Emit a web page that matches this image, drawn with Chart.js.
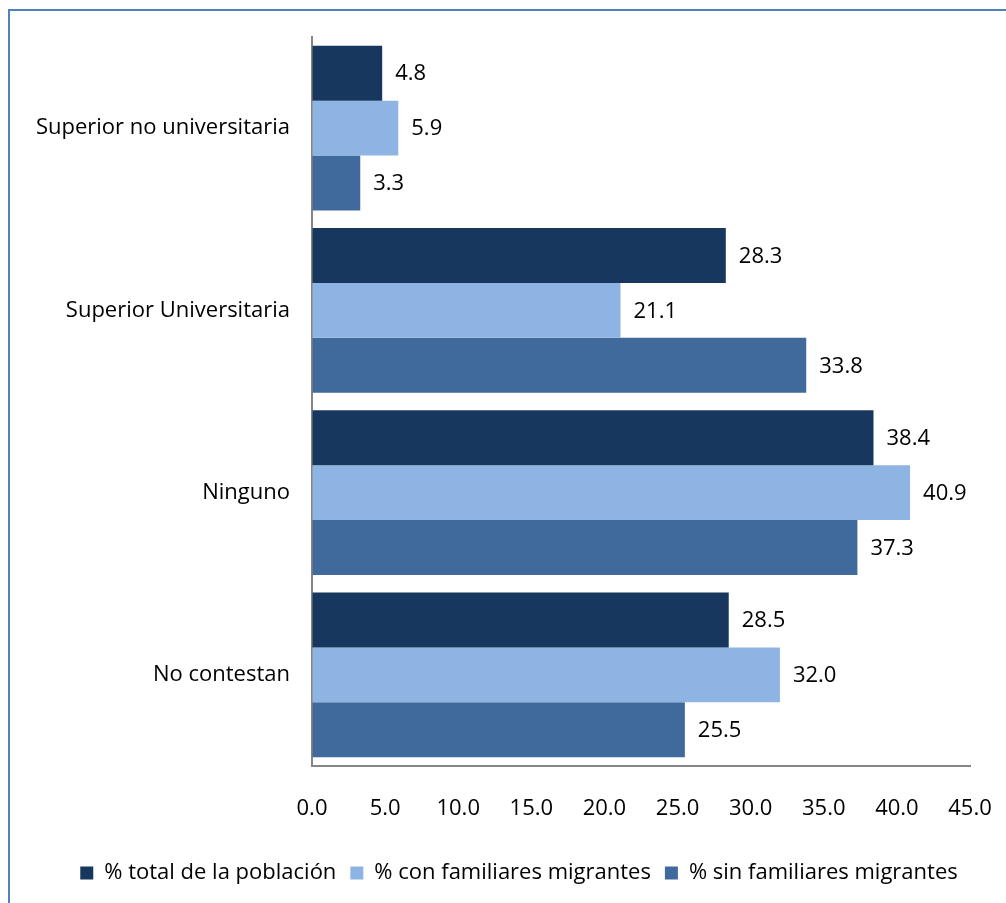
<!DOCTYPE html>
<html lang="es">
<head>
<meta charset="utf-8">
<title>Nivel educativo</title>
<script src="https://cdn.jsdelivr.net/npm/chart.js@4/dist/chart.umd.min.js"></script>
<style>
    html, body { margin: 0; padding: 0; background: #fff; overflow: hidden; }
    #marco {
        position: absolute; left: 8px; top: 9px;
        width: 1200px; height: 1200px;
        border-top: 2px solid #4f81bd; border-left: 2px solid #4f81bd;
    }
    #myChart { position: absolute; left: 0; top: 0; }
</style>
</head>
<body>
<div id="marco"></div>
<canvas id="myChart" width="1006" height="903"></canvas>
<script>
// Datos del gráfico
const categorias = ['Superior no universitaria', 'Superior Universitaria', 'Ninguno', 'No contestan'];
const totalPoblacion = [4.8, 28.3, 38.4, 28.5];
const conFamiliares = [5.9, 21.1, 40.9, 32.0];
const sinFamiliares = [3.3, 33.8, 37.3, 25.5];
const ticksX = [0, 5, 10, 15, 20, 25, 30, 35, 40, 45];

const fuente = '"Open Sans", Lato, sans-serif';
const tamano = 22;

// Plugin para escribir el valor al final de cada barra
const etiquetas = {
    id: 'etiquetas',
    afterDatasetsDraw(chart) {
        const c = chart.ctx;
        c.save();
        c.font = tamano + 'px ' + fuente;
        c.fillStyle = '#000';
        c.textAlign = 'left';
        c.textBaseline = 'middle';
        chart.data.datasets.forEach((ds, i) => {
            chart.getDatasetMeta(i).data.forEach((bar, j) => {
                c.fillText(ds.data[j].toFixed(1), bar.x + 13, bar.y + 1);
            });
        });
        c.restore();
    }
};

// Desplaza la leyenda un poco a la derecha (como en el original)
const moverLeyenda = {
    id: 'moverLeyenda',
    afterLayout(chart) {
        chart.legend.left += 34;
        chart.legend.right += 34;
    }
};

const ctx = document.getElementById('myChart').getContext('2d');
const chart = new Chart(ctx, {
    type: 'bar',
    data: {
        labels: categorias,
        datasets: [
            { label: '% total de la población', data: totalPoblacion, backgroundColor: '#17375e' },
            { label: '% con familiares migrantes', data: conFamiliares, backgroundColor: '#8eb4e3' },
            { label: '% sin familiares migrantes', data: sinFamiliares, backgroundColor: '#416a9c' }
        ]
    },
    options: {
        indexAxis: 'y',
        responsive: false,
        animation: false,
        devicePixelRatio: 1,
        layout: { padding: { top: 37, right: 36, left: 0, bottom: 9 } },
        datasets: { bar: { categoryPercentage: 0.905, barPercentage: 1 } },
        scales: {
            x: {
                min: 0,
                max: 45,
                afterBuildTicks(scale) { scale.ticks = ticksX.map(v => ({ value: v })); },
                afterFit(scale) {
                    scale.height = 82;
                    scale.paddingLeft = 0;
                    scale.paddingRight = 0;
                },
                grid: { drawOnChartArea: false, drawTicks: false },
                border: { color: '#868686', width: 2 },
                ticks: {
                    padding: 30,
                    color: '#000',
                    font: { family: fuente, size: tamano },
                    callback: v => Number(v).toFixed(1)
                }
            },
            y: {
                afterFit(scale) {
                    scale.width = 312;
                    scale.paddingTop = 0;
                    scale.paddingBottom = 0;
                },
                grid: { drawOnChartArea: false, drawTicks: false },
                border: { color: '#868686', width: 2 },
                ticks: {
                    padding: 22,
                    color: '#000',
                    font: { family: fuente, size: tamano }
                }
            }
        },
        plugins: {
            legend: {
                position: 'bottom',
                labels: {
                    boxWidth: 13,
                    boxHeight: 13,
                    padding: 14,
                    color: '#000',
                    font: { family: fuente, size: tamano }
                }
            },
            tooltip: { enabled: false }
        }
    },
    plugins: [etiquetas, moverLeyenda]
});
</script>
</body>
</html>
